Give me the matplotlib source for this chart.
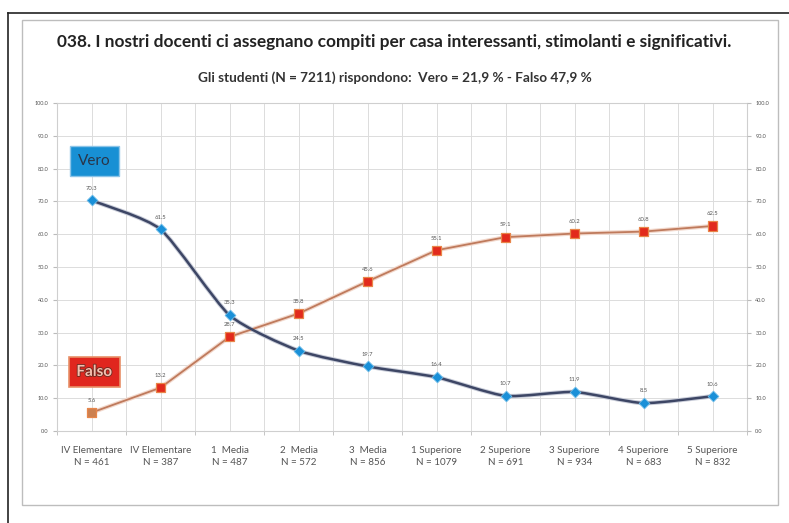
import numpy as np
import matplotlib.pyplot as plt
from matplotlib.path import Path
from matplotlib.patches import PathPatch, Rectangle
from matplotlib.lines import Line2D
import matplotlib.patheffects as pe

# dati
categorie = ['IV Elementare\nN = 461', 'IV Elementare\nN = 387', '1  Media\nN = 487',
             '2  Media\nN = 572', '3  Media\nN = 856', '1 Superiore\nN = 1079',
             '2 Superiore\nN = 691', '3 Superiore\nN = 934', '4 Superiore\nN = 683',
             '5 Superiore\nN = 832']
vero = [70.3, 61.5, 35.3, 24.5, 19.7, 16.4, 10.7, 11.9, 8.5, 10.6]
falso = [5.6, 13.2, 28.7, 35.8, 45.6, 55.1, 59.1, 60.2, 60.8, 62.5]
y_ticks = np.arange(0, 101, 10)

titolo = '038. I nostri docenti ci assegnano compiti per casa interessanti, stimolanti e significativi.'
sottotitolo = 'Gli studenti (N = 7211) rispondono:  Vero = 21,9 % - Falso 47,9 %'

plt.rcParams['font.family'] = ['Lato', 'DejaVu Sans']


# linea smussata (come in Excel) con curve di Bezier
def smooth_path(xs, ys, t=0.1):
    xs = np.asarray(xs, float)
    ys = np.asarray(ys, float)
    n = len(xs)
    verts = [(xs[0], ys[0])]
    codes = [Path.MOVETO]
    for i in range(n - 1):
        p0 = np.array([xs[max(i - 1, 0)], ys[max(i - 1, 0)]])
        p1 = np.array([xs[i], ys[i]])
        p2 = np.array([xs[i + 1], ys[i + 1]])
        p3 = np.array([xs[min(i + 2, n - 1)], ys[min(i + 2, n - 1)]])
        c1 = p1 + (p2 - p0) * t
        c2 = p2 - (p3 - p1) * t
        verts += [tuple(c1), tuple(c2), tuple(p2)]
        codes += [Path.CURVE4] * 3
    return Path(verts, codes)


fig = plt.figure(figsize=(7.89, 5.23), dpi=100)

# cornice esterna e riquadro interno
fig.add_artist(Line2D([8 / 789, 1.0], [1 - 13 / 523, 1 - 13 / 523], color='#222222', lw=1.2))
fig.add_artist(Line2D([8 / 789, 8 / 789], [0.0, 1 - 13 / 523], color='#222222', lw=1.2))
fig.add_artist(Rectangle((22 / 789, 1 - 505 / 523), 756 / 789, 485 / 523, transform=fig.transFigure,
                         fill=False, edgecolor='#bdbdbd', lw=1.0))

fig.text(0.5, 1 - 42 / 523, titolo, ha='center', va='center', fontsize=12.4, fontweight='bold', color='#222222')
fig.text(0.5, 1 - 78 / 523, sottotitolo, ha='center', va='center', fontsize=9.8, fontweight='bold', color='#333333')

ax = fig.add_axes([57 / 789, 1 - 431 / 523, 690 / 789, 328 / 523])
x = np.arange(len(categorie))

ax.set_xlim(-0.5, len(categorie) - 0.5)
ax.set_ylim(0, 100)
ax.set_yticks(y_ticks)
ax.set_yticklabels(['%.1f' % v for v in y_ticks], fontsize=4, color='#555555')
ax.set_xticks(x)
ax.set_xticklabels(categorie, fontsize=7.1, color='#555555', linespacing=1.45)
ax.set_xticks(np.arange(-0.5, len(categorie), 1), minor=True)
ax.tick_params(axis='x', which='major', length=0, pad=11)
ax.tick_params(axis='x', which='minor', length=3, color='#bbbbbb')
ax.tick_params(axis='y', length=3, color='#bbbbbb', pad=3)

for g in np.arange(-0.5, len(categorie), 0.5):
    ax.axvline(g, color='#dcdcdc', lw=0.7, zorder=0)
for g in y_ticks:
    ax.axhline(g, color='#dcdcdc', lw=0.7, zorder=0)
for s in ax.spines.values():
    s.set_color('#cfcfcf')
    s.set_linewidth(0.8)

ax2 = ax.twinx()
ax2.set_ylim(0, 100)
ax2.set_yticks(y_ticks)
ax2.set_yticklabels(['%.1f' % v for v in y_ticks], fontsize=4, color='#555555')
ax2.tick_params(axis='y', length=3, color='#bbbbbb', pad=3)
for s in ax2.spines.values():
    s.set_visible(False)

# serie Falso (linea diritta)
ax.plot(x, falso, color='#f2d8cc', lw=3.0, zorder=2, solid_capstyle='round')
ax.plot(x, falso, color='#bf7a5c', lw=1.3, zorder=3)
col_falso = ['#cc8050'] + ['#e22a1c'] * (len(falso) - 1)
ax.scatter(x, falso, marker='s', s=44, c=col_falso, edgecolors='#e8864a', linewidths=0.9, zorder=5)

# serie Vero (linea smussata)
ax.add_patch(PathPatch(smooth_path(x, vero), facecolor='none', edgecolor='#c8ccd8', lw=3.2, zorder=2))
ax.add_patch(PathPatch(smooth_path(x, vero), facecolor='none', edgecolor='#3d4665', lw=1.8, zorder=3))
ax.scatter(x, vero, marker='D', s=30, c='#1a90d8', edgecolors='#6cbbe8', linewidths=0.6, zorder=6)

for xi, v in zip(x, vero):
    ax.annotate('%.1f' % v, (xi, v), xytext=(0, 7), textcoords='offset points',
                ha='center', va='bottom', fontsize=4.2, color='#555555', zorder=7)
for xi, v in zip(x, falso):
    ax.annotate('%.1f' % v, (xi, v), xytext=(0, 7), textcoords='offset points',
                ha='center', va='bottom', fontsize=4.2, color='#555555', zorder=7)

# etichette Vero / Falso
ax.text(0.04, 82.3, 'Vero', ha='center', va='center', fontsize=11, color='#2a3548', zorder=8,
        bbox=dict(boxstyle='square,pad=0.55', facecolor='#1890d4', edgecolor='#8cc4e8', lw=1.0))
ax.text(0.04, 18.0, 'Falso', ha='center', va='center', fontsize=11, fontweight='bold', color='#f4c0b0', zorder=8,
        path_effects=[pe.withStroke(linewidth=1.2, foreground='#6a2a20')],
        bbox=dict(boxstyle='square,pad=0.5', facecolor='#e0261e', edgecolor='#e89068', lw=1.2))

fig.savefig('out.png', dpi=100)
